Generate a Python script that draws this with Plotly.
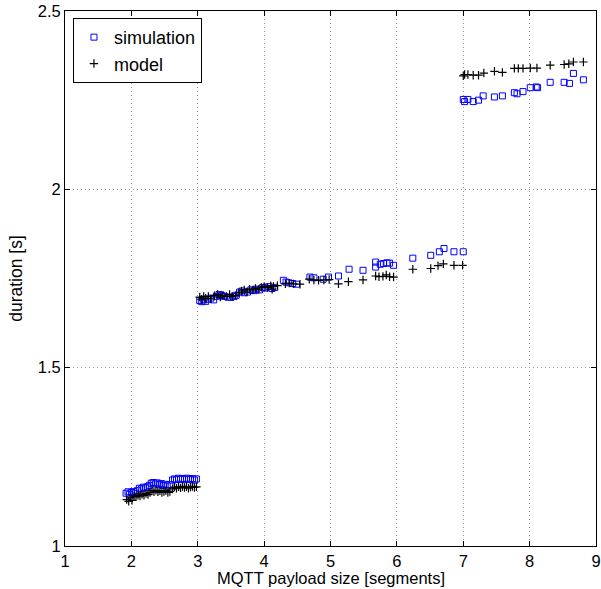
import plotly.graph_objects as go

sim_x = [1.92, 1.95, 1.97, 2.00, 2.03, 2.06, 2.09, 2.12, 2.15, 2.18, 2.21, 2.24, 2.27, 2.30, 2.33, 2.36,
         2.39, 2.42, 2.45, 2.48, 2.51, 2.54, 2.58, 2.62, 2.65, 2.68, 2.71, 2.74, 2.77, 2.80, 2.83, 2.86,
         2.89, 2.92, 2.95, 2.98,
         3.03, 3.06, 3.09, 3.12, 3.15, 3.20, 3.24, 3.28, 3.32, 3.36, 3.40, 3.45, 3.50, 3.55, 3.58, 3.63,
         3.67, 3.70, 3.75, 3.80, 3.85, 3.88, 3.93, 3.98, 4.02, 4.07, 4.12, 4.16, 4.29, 4.33, 4.37, 4.43,
         4.49, 4.69, 4.75, 4.89, 4.97, 5.12, 5.28, 5.49, 5.68, 5.68, 5.75, 5.80, 5.85, 5.89, 5.95, 6.24,
         6.51, 6.64, 6.71, 6.86, 7.00,
         7.00, 7.02, 7.07, 7.15, 7.23, 7.30, 7.47, 7.59, 7.77, 7.81, 7.90, 8.01, 8.10, 8.12, 8.31, 8.52,
         8.60, 8.66, 8.81]
sim_y = [1.148, 1.152, 1.145, 1.150, 1.153, 1.148, 1.155, 1.162, 1.160, 1.165, 1.163, 1.166, 1.170, 1.176,
         1.178, 1.174, 1.177, 1.172, 1.175, 1.170, 1.173, 1.168, 1.172, 1.185, 1.188, 1.186, 1.190, 1.187,
         1.189, 1.186, 1.190, 1.188, 1.186, 1.189, 1.185, 1.188,
         1.688, 1.685, 1.690, 1.686, 1.692, 1.695, 1.690, 1.700, 1.705, 1.702, 1.700, 1.698, 1.697, 1.700,
         1.703, 1.712, 1.715, 1.710, 1.712, 1.718, 1.716, 1.720, 1.718, 1.725, 1.723, 1.727, 1.722, 1.725,
         1.745, 1.740, 1.738, 1.736, 1.734, 1.754, 1.752, 1.748, 1.754, 1.757, 1.776, 1.773, 1.796, 1.782,
         1.790, 1.792, 1.794, 1.793, 1.787, 1.807, 1.815, 1.825, 1.834, 1.825, 1.825,
         2.252, 2.246, 2.252, 2.246, 2.250, 2.262, 2.259, 2.262, 2.271, 2.268, 2.274, 2.285, 2.287, 2.285,
         2.300, 2.300, 2.297, 2.325, 2.307]

model_x = [1.93, 1.96, 1.98, 2.01, 2.04, 2.07, 2.10, 2.13, 2.16, 2.19, 2.22, 2.25, 2.28, 2.31, 2.34, 2.37,
           2.40, 2.43, 2.46, 2.49, 2.52, 2.55, 2.58, 2.62, 2.65, 2.68, 2.71, 2.74, 2.77, 2.80, 2.83, 2.86,
           2.89, 2.92, 2.95, 2.98,
           3.03, 3.06, 3.09, 3.12, 3.16, 3.20, 3.25, 3.30, 3.34, 3.38, 3.43, 3.48, 3.52, 3.57, 3.62, 3.66,
           3.70, 3.74, 3.78, 3.83, 3.87, 3.92, 3.96, 4.00, 4.05, 4.10, 4.14, 4.12, 4.20, 4.32, 4.38, 4.44,
           4.54, 4.68, 4.75, 4.82, 4.90, 4.98, 5.12, 5.27, 5.49, 5.68, 5.73, 5.79, 5.84, 5.89, 5.95, 6.24,
           6.51, 6.62, 6.70, 6.86, 6.99,
           7.00, 7.02, 7.07, 7.15, 7.23, 7.31, 7.47, 7.59, 7.77, 7.83, 7.90, 8.01, 8.11, 8.31, 8.52, 8.59,
           8.66, 8.81]
model_y = [1.130, 1.125, 1.135, 1.128, 1.140, 1.138, 1.142, 1.140, 1.145, 1.142, 1.147, 1.144, 1.150, 1.155,
           1.152, 1.156, 1.152, 1.155, 1.150, 1.153, 1.155, 1.150, 1.153, 1.160, 1.165, 1.162, 1.166, 1.163,
           1.167, 1.164, 1.166, 1.162, 1.165, 1.167, 1.164, 1.166,
           1.698, 1.692, 1.700, 1.695, 1.700, 1.693, 1.702, 1.705, 1.698, 1.703, 1.700, 1.705, 1.700, 1.702,
           1.710, 1.715, 1.718, 1.712, 1.720, 1.718, 1.722, 1.720, 1.725, 1.728, 1.725, 1.730, 1.728, 1.720,
           1.730, 1.735, 1.737, 1.735, 1.734, 1.748, 1.746, 1.745, 1.746, 1.747, 1.735, 1.741, 1.746, 1.757,
           1.755, 1.756, 1.760, 1.755, 1.754, 1.776, 1.778, 1.786, 1.791, 1.787, 1.787,
           2.318, 2.322, 2.322, 2.320, 2.320, 2.326, 2.331, 2.328, 2.339, 2.339, 2.339, 2.340, 2.340, 2.348,
           2.350, 2.352, 2.357, 2.357]

x_ticks = [1, 2, 3, 4, 5, 6, 7, 8, 9]
y_ticks = [1, 1.5, 2, 2.5]

font = "Liberation Sans, Arial, Helvetica, sans-serif"

fig = go.Figure()
fig.add_trace(go.Scatter(
    x=sim_x, y=sim_y, mode="markers", name="simulation",
    marker=dict(symbol="square-open", size=6, color="#0000ff", line=dict(width=1, color="#0000ff")),
))
fig.add_trace(go.Scatter(
    x=model_x, y=model_y, mode="markers", name="model",
    marker=dict(symbol="cross-thin-open", size=6, color="#000000", line=dict(width=1.2, color="#000000")),
))

axis_common = dict(
    showline=True, linecolor="black", linewidth=1, mirror="ticks",
    ticks="inside", ticklen=5, tickcolor="black",
    showgrid=True, gridcolor="#9a9a9a", griddash="1px,3px", gridwidth=1,
    zeroline=False, tickfont=dict(size=16.5, color="black", family=font),
)

fig.update_layout(
    width=601, height=589,
    margin=dict(l=65, r=5, t=11, b=43),
    paper_bgcolor="white", plot_bgcolor="white",
    font=dict(family=font, size=17, color="black"),
    showlegend=True,
    legend=dict(x=0.015, y=0.987, xanchor="left", yanchor="top",
                bgcolor="white", bordercolor="black", borderwidth=1,
                font=dict(size=18, family=font), tracegroupgap=0, itemwidth=30),
    xaxis=dict(range=[1, 9], tickvals=x_ticks, ticktext=[str(v) for v in x_ticks],
               automargin=False, **axis_common),
    yaxis=dict(range=[1, 2.5], tickvals=y_ticks, ticktext=["1", "1.5", "2", "2.5"],
               title=dict(text="duration [s]", standoff=10, font=dict(size=17.5)),
               automargin=False, **axis_common),
    annotations=[dict(text="MQTT payload size [segments]", xref="paper", yref="paper",
                      x=0.5, y=-0.0785, xanchor="center", yanchor="bottom", showarrow=False,
                      borderpad=0, font=dict(size=16.5, family=font, color="black"))],
)

fig.write_html("out.html")
